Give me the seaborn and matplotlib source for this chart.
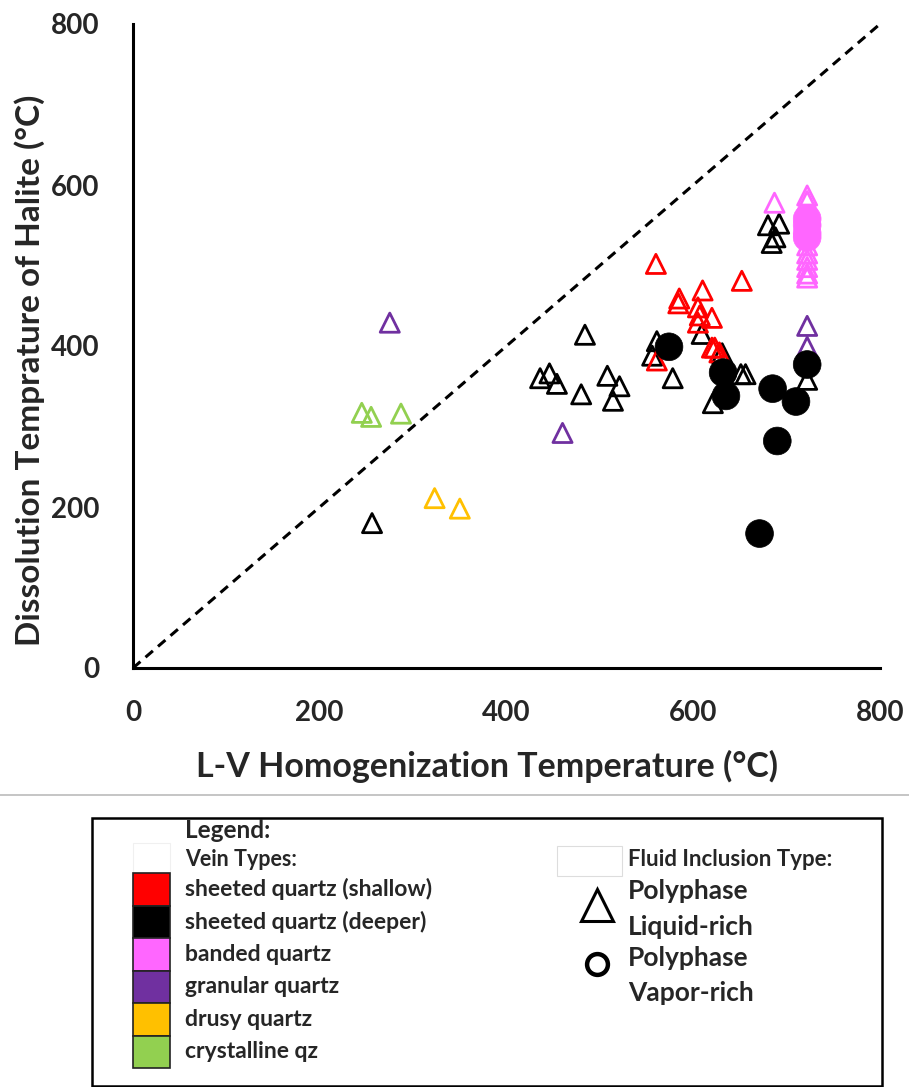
import matplotlib
matplotlib.use("Agg")
import matplotlib.pyplot as plt
import seaborn as sns
import pandas as pd
from matplotlib.patches import Rectangle
from matplotlib.lines import Line2D

sns.set_style("white")
plt.rcParams['font.family'] = ['Lato', 'DejaVu Sans']

# ---------------- data ----------------
vein_types = ["sheeted quartz (shallow)", "sheeted quartz (deeper)", "banded quartz",
              "granular quartz", "drusy quartz", "crystalline qz"]
vein_colors = ["#FF0000", "#000000", "#FF66FF", "#7030A0", "#FFC000", "#92D050"]

# Polyphase liquid-rich inclusions (triangles)
shallow_liq_x = [560, 652, 585, 584, 610, 605, 607, 620, 605, 620, 623, 628, 561]
shallow_liq_y = [502, 481, 459, 453, 469, 448, 438, 435, 429, 398, 398, 392, 382]

deeper_liq_x = [256, 436, 446, 454, 484, 480, 508, 521, 514, 556, 561, 578, 609, 631,
                651, 656, 621, 722, 680, 692, 688, 684]
deeper_liq_y = [180, 360, 366, 353, 414, 340, 363, 350, 332, 388, 406, 360, 415, 391,
                365, 365, 329, 358, 550, 552, 535, 528]

banded_liq_x = [687, 722, 722, 722, 722, 722, 722, 722, 722]
banded_liq_y = [578, 587, 580, 525, 515, 507, 498, 490, 485]

granular_liq_x = [275, 460, 722, 722]
granular_liq_y = [429, 292, 425, 399]

drusy_liq_x = [323, 350]
drusy_liq_y = [211, 198]

cryst_liq_x = [245, 255, 287]
cryst_liq_y = [317, 312, 316]

# Polyphase vapor-rich inclusions (circles)
deeper_vap_x = [574, 632, 635, 685, 710, 722, 690, 671]
deeper_vap_y = [399, 367, 338, 347, 331, 377, 282, 167]

banded_vap_x = [722, 722, 722, 722]
banded_vap_y = [558, 550, 540, 535]

axis_ticks = [0, 200, 400, 600, 800]

# ---------------- tables ----------------
def make(xs, ys, vein):
    return pd.DataFrame({"Th": xs, "Tm": ys, "vein": vein})

liq = pd.concat([
    make(deeper_liq_x, deeper_liq_y, vein_types[1]),
    make(shallow_liq_x, shallow_liq_y, vein_types[0]),
    make(banded_liq_x, banded_liq_y, vein_types[2]),
    make(granular_liq_x, granular_liq_y, vein_types[3]),
    make(drusy_liq_x, drusy_liq_y, vein_types[4]),
    make(cryst_liq_x, cryst_liq_y, vein_types[5]),
], ignore_index=True)
vap = pd.concat([
    make(deeper_vap_x, deeper_vap_y, vein_types[1]),
    make(banded_vap_x, banded_vap_y, vein_types[2]),
], ignore_index=True)
palette = dict(zip(vein_types, vein_colors))

# ---------------- figure ----------------
W, H = 909, 1087
fig = plt.figure(figsize=(W / 100, H / 100), dpi=100)
ax = fig.add_axes([133 / W, (H - 668) / H, (880 - 133) / W, (668 - 24) / H])

ax.plot([0, 800], [0, 800], ls=(0, (3.2, 2.2)), color="black", lw=2.2, zorder=1)

sns.scatterplot(data=liq, x="Th", y="Tm", hue="vein", palette=palette, marker="^",
                s=190, linewidth=2.0, legend=False, ax=ax, zorder=2)
tri = ax.collections[-1]
fc = tri.get_facecolors()
tri.set_edgecolors(fc)
tri.set_facecolors("none")

sns.scatterplot(data=vap, x="Th", y="Tm", hue="vein", palette=palette, marker="o",
                s=400, linewidth=0.5, legend=False, ax=ax, zorder=3)
circ = ax.collections[-1]
circ.set_edgecolors(circ.get_facecolors())

ax.set_xlim(0, 800)
ax.set_ylim(0, 800)
ax.set_xticks(axis_ticks)
ax.set_yticks(axis_ticks)
ax.tick_params(length=0, labelsize=20)
ax.tick_params(axis="x", pad=23)
ax.tick_params(axis="y", pad=24)
for lab in ax.get_xticklabels() + ax.get_yticklabels():
    lab.set_fontweight("bold")
for side in ["top", "right"]:
    ax.spines[side].set_visible(False)
for side in ["left", "bottom"]:
    ax.spines[side].set_linewidth(2.2)
    ax.spines[side].set_color("black")

ax.set_xlabel("")
ax.set_ylabel("")
fig.text(487 / W, 1 - 766 / H, "L-V Homogenization Temperature (°C)", ha="center",
         va="center", fontsize=24.5, fontweight="bold")
fig.text(30 / W, 1 - 370 / H, "Dissolution Temprature of Halite (°C)", ha="center",
         va="center", rotation=90, fontsize=24, fontweight="bold")

# separator line
fig.add_artist(Line2D([0, 1], [1 - 795 / H, 1 - 795 / H], color="#bbbbbb", lw=1.2))

# ---------------- legend box ----------------
def fx(px):
    return px / W

def fy(py):
    return 1 - py / H

fig.add_artist(Rectangle((fx(92), fy(1086)), fx(882) - fx(92), fy(818) - fy(1086),
                         fill=False, ec="black", lw=1.8))
fig.text(fx(185), fy(831), "Legend:", fontsize=17.5, fontweight="bold", va="center")
fig.add_artist(Rectangle((fx(133), fy(873)), fx(170) - fx(133), fy(843) - fy(873),
                         fill=False, ec="#f0f0f0", lw=0.8))
fig.text(fx(185), fy(859), "Vein Types:", fontsize=15.5, fontweight="bold", va="center")

sw_top = 873
sw_h = 32.5
for i, (name, col) in enumerate(zip(vein_types, vein_colors)):
    t = sw_top + i * sw_h
    fig.add_artist(Rectangle((fx(133), fy(t + sw_h)), fx(170) - fx(133),
                             fy(t) - fy(t + sw_h), fc=col, ec="#222222", lw=1.2))
    fig.text(fx(185), fy(t + sw_h / 2), name, fontsize=16.5, fontweight="bold",
             va="center")

fig.add_artist(Rectangle((fx(557), fy(876)), fx(622) - fx(557), fy(846) - fy(876),
                         fill=False, ec="#dddddd", lw=0.8))
fig.text(fx(628), fy(859), "Fluid Inclusion Type:", fontsize=16, fontweight="bold",
         va="center")
fig.add_artist(Line2D([fx(597)], [fy(905)], marker="^", ms=23, mfc="none", mec="black",
                      mew=2.2, transform=fig.transFigure))
fig.add_artist(Line2D([fx(597)], [fy(964)], marker="o", ms=15, mfc="none", mec="black",
                      mew=3.2, transform=fig.transFigure))
for txt, py in [("Polyphase", 891), ("Liquid-rich", 927), ("Polyphase", 958),
                ("Vapor-rich", 993)]:
    fig.text(fx(628), fy(py), txt, fontsize=19, fontweight="bold", va="center")

fig.savefig("out.png", dpi=100)
